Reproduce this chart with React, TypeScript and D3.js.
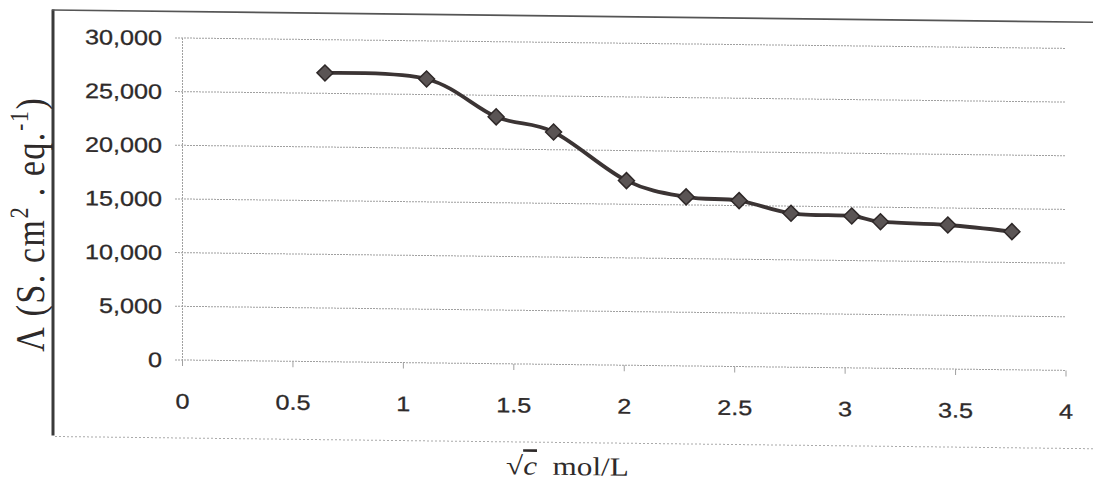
import React from "react";
import * as d3 from "d3";

const xValues = [0.645, 1.105, 1.42, 1.68, 2.01, 2.28, 2.52, 2.755, 3.03, 3.16, 3.465, 3.755];
const yValues = [26900, 26450, 23000, 21650, 17200, 15750, 15460, 14340, 14150, 13650, 13420, 12870];
const yTicks = [0, 5000, 10000, 15000, 20000, 25000, 30000];
const xTicks = [0, 0.5, 1, 1.5, 2, 2.5, 3, 3.5, 4];
const xTickLabels = ["0", "0.5", "1", "1.5", "2", "2.5", "3", "3.5", "4"];

const W = 1093;
const H = 488;

export default function App() {
  const x = d3.scaleLinear().domain([0, 4]).range([182.5, 1066]);
  const y = d3.scaleLinear().domain([0, 30000]).range([360, 38]);
  const pts: [number, number][] = xValues.map((v, i) => [x(v), y(yValues[i])]);
  const line = d3.line().curve(d3.curveCatmullRom.alpha(0))(pts) || "";
  const tickFont = "'Liberation Sans', Arial, sans-serif";
  const serif = "'Liberation Serif', 'Times New Roman', serif";
  const grid = "#a0a0a0";
  const textColor = "#2e2a2a";
  return (
    <svg width={W} height={H} style={{ position: "absolute", left: 0, top: 0, background: "#fff" }}>
      <rect x={0} y={0} width={W} height={H} fill="#fff" />
      <g transform="translate(183,0) skewY(0.676) translate(-183,0)">
        {/* outer frame */}
        <line x1={53} x2={53} y1={11} y2={437} stroke="#3a3a3a" strokeWidth={3} />
        <line x1={52} x2={W + 20} y1={11.5} y2={11.5} stroke="#555" strokeWidth={1.6} />
        <line x1={55} x2={W + 20} y1={438} y2={438} stroke="#aaa" strokeWidth={1} strokeDasharray="2 2" />
        {/* gridlines */}
        {yTicks.map((t) => (
          <line key={"g" + t} x1={175} x2={1066} y1={y(t)} y2={y(t)} stroke={grid} strokeWidth={1} strokeDasharray="2 1" />
        ))}
        {/* y axis line */}
        <line x1={182.5} x2={182.5} y1={y(30000)} y2={365} stroke={grid} strokeWidth={1} strokeDasharray="2 1" />
        {/* x ticks */}
        {xTicks.map((t) => (
          <line key={"xt" + t} x1={x(t)} x2={x(t)} y1={360} y2={366} stroke={grid} strokeWidth={1} />
        ))}
        {/* y tick labels */}
        {yTicks.map((t) => (
          <text
            key={"yl" + t}
            transform={`translate(162,${y(t) + 7.5}) scale(1.2,1)`}
            textAnchor="end"
            fontFamily={tickFont}
            fontSize={21}
            fill={textColor}
            stroke={textColor}
            strokeWidth={0.3}
          >
            {d3.format(",")(t)}
          </text>
        ))}
        {/* x tick labels */}
        {xTicks.map((t, i) => (
          <text
            key={"xl" + t}
            transform={`translate(${x(t)},${408.5}) scale(1.2,1)`}
            textAnchor="middle"
            fontFamily={tickFont}
            fontSize={21}
            fill={textColor}
            stroke={textColor}
            strokeWidth={0.3}
          >
            {xTickLabels[i]}
          </text>
        ))}
        {/* series */}
        <path d={line} fill="none" stroke="#3b3434" strokeWidth={3.8} strokeLinejoin="round" />
        {pts.map(([px, py], i) => (
          <path
            key={"m" + i}
            d={`M${px},${py - 8}L${px + 8},${py}L${px},${py + 8}L${px - 8},${py}Z`}
            fill="#5a5454"
            stroke="#2e2828"
            strokeWidth={1.5}
          />
        ))}
        {/* y title */}
        <text
          transform="translate(44,226) rotate(-90) scale(1,1.2)"
          textAnchor="middle"
          fontFamily={serif}
          fontSize={34}
          fill={textColor}
          letterSpacing={1.5}
        >
          Λ (S. cm<tspan dy={-13} fontSize={22}>2</tspan>
          <tspan dy={13}> . eq.</tspan>
          <tspan dy={-13} fontSize={22}>-1</tspan>
          <tspan dy={13}>)</tspan>
        </text>
        {/* x title */}
        <text
          transform="translate(506,470.5) scale(1.2,1)"
          fontFamily={serif}
          fontSize={26}
          fill={textColor}
        >
          √<tspan fontStyle="italic" textDecoration="overline">c</tspan>
          <tspan>{"\u00A0\u00A0mol/L"}</tspan>
        </text>
      </g>
    </svg>
  );
}
